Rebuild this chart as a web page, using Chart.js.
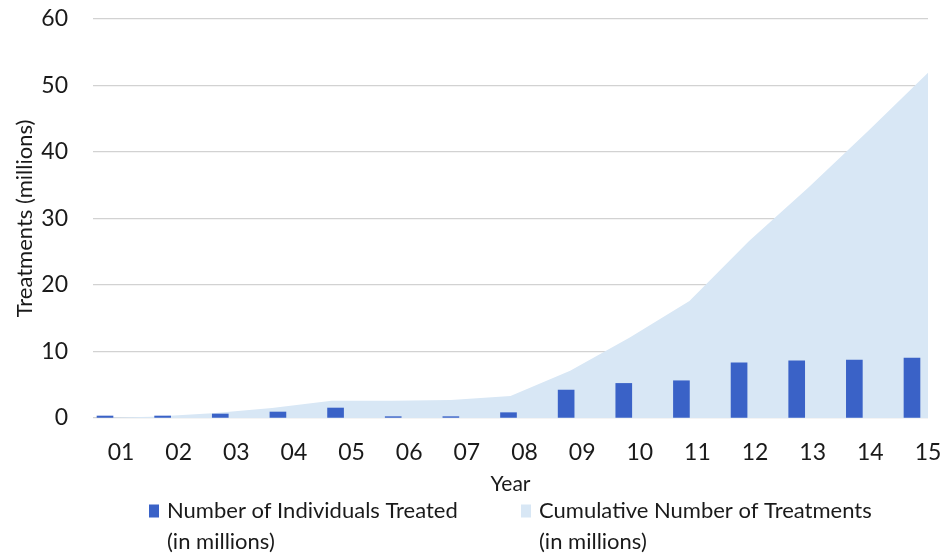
<!DOCTYPE html>
<html>
<head>
<meta charset="utf-8">
<title>Treatments by year</title>
<script src="https://cdn.jsdelivr.net/npm/chart.js@4.4.1/dist/chart.umd.min.js"></script>
<style>
  html, body { margin: 0; padding: 0; background: #ffffff; }
  #wrap { position: relative; width: 951px; height: 554px; }
</style>
</head>
<body>
<div id="wrap"><canvas id="chart"></canvas></div>
<script>
// Year labels along the horizontal axis
const categories = ['01', '02', '03', '04', '05', '06', '07', '08', '09', '10', '11', '12', '13', '14', '15'];

// Number of individuals treated per year (millions)
const individualsTreated = [0.3, 0.3, 0.6, 0.9, 1.5, 0.2, 0.2, 0.8, 4.2, 5.2, 5.6, 8.3, 8.6, 8.7, 9.0];

// Cumulative number of treatments (millions)
const cumulativeTreatments = [0.0, 0.2, 0.7, 1.5, 2.6, 2.6, 2.7, 3.3, 7.1, 12.1, 17.6, 26.6, 34.7, 43.2, 51.9];

// Vertical axis ticks
const yTicks = [0, 10, 20, 30, 40, 50, 60];

// Legend text, one entry per series, split into lines
const seriesNames = [
  ['Number of Individuals Treated', '(in millions)'],
  ['Cumulative Number of Treatments', '(in millions)']
];

const FONT = 'Lato, "Open Sans", sans-serif';
const TEXT = '#1a1a1a';
const BAR_BLUE = '#3a62c7';
const AREA_BLUE = '#d8e7f5';

// Two-line legend drawn beneath the axis title
const multiLineLegend = {
  id: 'multiLineLegend',
  afterDraw(chart, args, opts) {
    const ctx = chart.ctx;
    ctx.save();
    ctx.font = opts.fontSize + 'px ' + FONT;
    ctx.textBaseline = 'middle';
    ctx.textAlign = 'left';
    chart.data.datasets.forEach((ds, i) => {
      const x = opts.itemX[i];
      const y = opts.top;
      ctx.fillStyle = ds.backgroundColor;
      ctx.fillRect(x, y - opts.boxH / 2, opts.boxW, opts.boxH);
      ctx.fillStyle = TEXT;
      seriesNames[i].forEach((line, k) => {
        ctx.fillText(line, x + opts.boxW + opts.gap, y + k * opts.lineGap);
      });
    });
    ctx.restore();
  }
};

new Chart(document.getElementById('chart'), {
  data: {
    datasets: [
      {
        type: 'bar',
        label: seriesNames[0].join(' '),
        data: individualsTreated.map((v, i) => ({ x: i + 1, y: v })),
        backgroundColor: BAR_BLUE,
        barThickness: 16,
        xAxisID: 'x',
        order: 1
      },
      {
        type: 'line',
        label: seriesNames[1].join(' '),
        data: cumulativeTreatments.map((v, i) => ({ x: i + 1, y: v })),
        backgroundColor: AREA_BLUE,
        borderWidth: 0,
        pointRadius: 0,
        tension: 0,
        fill: 'origin',
        xAxisID: 'x2',
        order: 2
      }
    ]
  },
  options: {
    responsive: true,
    maintainAspectRatio: false,
    animation: false,
    layout: { padding: { top: 19, right: 23, bottom: 57, left: 0 } },
    plugins: {
      legend: { display: false },
      tooltip: { enabled: false },
      multiLineLegend: {
        fontSize: 22,
        itemX: [149, 521],
        top: 511,
        lineGap: 31,
        boxW: 10,
        boxH: 13,
        gap: 8
      }
    },
    scales: {
      x: {
        type: 'linear',
        position: 'bottom',
        min: 0.653,
        max: 15.139,
        offset: false,
        afterFit: (scale) => { scale.height = 79; },
        grid: { display: false },
        border: { display: false },
        ticks: {
          stepSize: 1,
          includeBounds: false,
          autoSkip: false,
          maxRotation: 0,
          labelOffset: 8,
          padding: 13,
          color: TEXT,
          font: { family: FONT, size: 23 },
          callback: (v) => categories[v - 1]
        },
        title: {
          display: true,
          text: 'Year',
          color: TEXT,
          font: { family: FONT, size: 21 },
          padding: { top: 0, bottom: 0 }
        }
      },
      x2: {
        type: 'linear',
        display: false,
        min: 1,
        max: 15,
        offset: false
      },
      y: {
        min: yTicks[0],
        max: yTicks[yTicks.length - 1],
        afterFit: (scale) => { scale.width = 93; },
        afterBuildTicks: (scale) => { scale.ticks = yTicks.map(v => ({ value: v })); },
        grid: {
          color: '#d2d2d2',
          lineWidth: 1.2,
          drawTicks: true,
          tickLength: 25,
          tickColor: 'rgba(0,0,0,0)'
        },
        border: { display: false },
        ticks: {
          padding: 0,
          color: TEXT,
          font: { family: FONT, size: 23 }
        },
        title: {
          display: true,
          text: 'Treatments (millions)',
          color: TEXT,
          font: { family: FONT, size: 22 },
          padding: { top: 12, bottom: 0 }
        }
      }
    }
  },
  plugins: [multiLineLegend]
});
</script>
</body>
</html>
